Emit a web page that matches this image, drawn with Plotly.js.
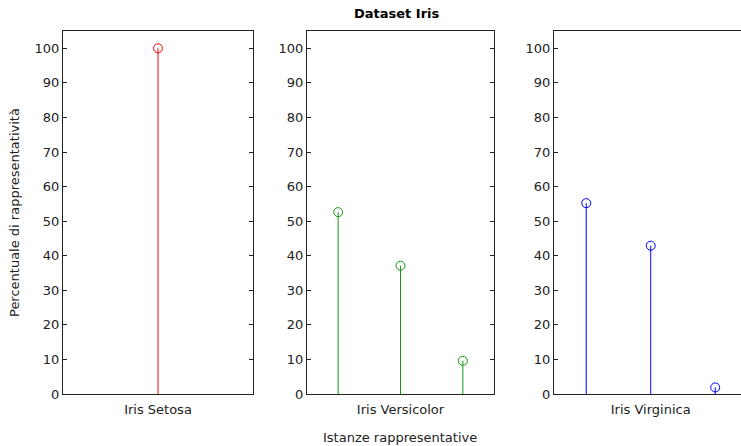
<!DOCTYPE html>
<html>
<head>
<meta charset="utf-8">
<script src="https://cdn.plot.ly/plotly-3.0.1.min.js"></script>
<style>html,body{margin:0;padding:0;background:#fff;}#chart{width:741px;height:446px;}</style>
</head>
<body>
<div id="chart"></div>
<script>
// Data
const setosaX = [1];
const setosaY = [100];
const versicolorX = [1, 2, 3];
const versicolorY = [52.6, 37.1, 9.6];
const virginicaX = [1, 2, 3];
const virginicaY = [55.2, 42.9, 1.9];
const tickLabels = ["Iris Setosa", "Iris Versicolor", "Iris Virginica"];
const colors = ["#ff0000", "#119911", "#0000ff"];

function stem(x, y, color, xa, ya) {
  return {
    type: "scatter", mode: "markers", x: x, y: y, xaxis: xa, yaxis: ya,
    marker: {symbol: "circle-open", size: 9, color: color, line: {width: 1, color: color}},
    error_y: {type: "data", symmetric: false, array: y.map(() => 0), arrayminus: y,
              color: color, thickness: 1, width: 0},
    hoverinfo: "x+y", showlegend: false
  };
}

const data = [
  stem(setosaX, setosaY, colors[0], "x", "y"),
  stem(versicolorX, versicolorY, colors[1], "x2", "y2"),
  stem(virginicaX, virginicaY, colors[2], "x3", "y3")
];

const font = {family: "DejaVu Sans, Arial, sans-serif", size: 13, color: "#222"};
const lineCol = "#222";
const yDom = [52/446, 415/446];

function xax(dom, range, tv, tt) {
  return {domain: dom, range: range, tickvals: tv, ticktext: tt, ticks: "", showgrid: false,
          zeroline: false, showline: true, mirror: true, linecolor: lineCol, linewidth: 1,
          tickfont: font, ticklabelstandoff: 3, fixedrange: true};
}
function yax(anchor, mirror) {
  return {domain: yDom, anchor: anchor, range: [0, 105], dtick: 10, tick0: 0, ticks: "inside",
          ticklen: 4, tickcolor: lineCol, showgrid: false, zeroline: false, showline: true,
          mirror: mirror, linecolor: lineCol, linewidth: 1, tickfont: font, fixedrange: true};
}

const layout = {
  width: 741, height: 446,
  margin: {l: 0, r: 0, t: 0, b: 0},
  paper_bgcolor: "#fff", plot_bgcolor: "#fff",
  showlegend: false,
  xaxis: Object.assign(xax([63/741, 253/741], [0, 2], [1], [tickLabels[0]]), {anchor: "y"}),
  yaxis: yax("x", "ticks"),
  xaxis2: Object.assign(xax([307/741, 494/741], [0.5, 3.5], [2], [tickLabels[1]]), {anchor: "y2"}),
  yaxis2: yax("x2", "ticks"),
  xaxis3: Object.assign(xax([554/741, 1], [0.5, 3.4], [2], [tickLabels[2]]), {anchor: "y3"}),
  yaxis3: yax("x3", false),
  annotations: [
    {text: "<b>Dataset Iris</b>", xref: "paper", yref: "paper", x: 397/741, y: 1 - 14/446,
     showarrow: false, xanchor: "center", yanchor: "middle",
     font: {family: "DejaVu Sans, Arial, sans-serif", size: 13, color: "#000"}},
    {text: "Istanze rappresentative", xref: "paper", yref: "paper", x: 400/741, y: 1 - 437/446,
     showarrow: false, xanchor: "center", yanchor: "middle", font: font},
    {text: "Percentuale di rappresentatività", xref: "paper", yref: "paper", x: 15/741, y: 1 - 213/446,
     showarrow: false, xanchor: "center", yanchor: "middle", textangle: -90, font: font}
  ]
};

Plotly.newPlot("chart", data, layout, {displayModeBar: false, staticPlot: true});
</script>
</body>
</html>
